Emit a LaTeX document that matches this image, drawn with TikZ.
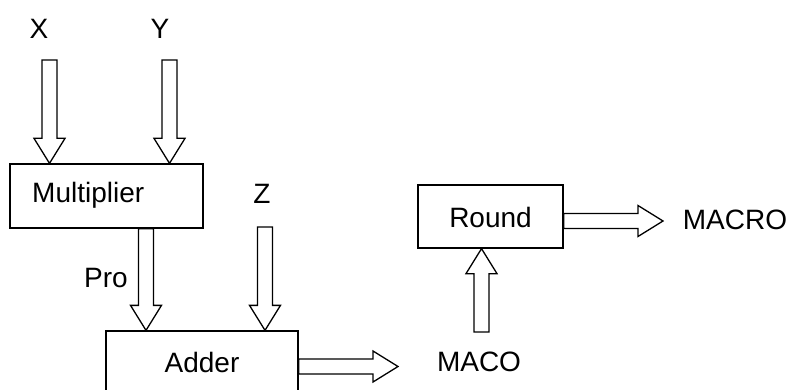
\documentclass[tikz,border=0pt]{standalone}
\usepackage{fontspec}
\setmainfont{Liberation Sans}
\usetikzlibrary{calc}

\tikzset{
  unitbox/.style={draw, line width=1.3pt, inner sep=0pt},
  sig/.style={inner sep=0pt, font=\fontsize{28}{31}\selectfont},
  fatarrow/.style={draw, line width=1.3pt, line join=miter, fill=white}
}

% Hollow block arrow from #1 to #2 (shaft half width 7.5, head half width 15.5, head length 25)
\newcommand\blockarrow[2]{%
  \coordinate (ba-h) at ($(#2)!25pt!(#1)$);
  \draw[fatarrow]
    ($(#1)!7.5pt!90:(#2)$) -- ($(ba-h)!7.5pt!90:(#2)$) -- ($(ba-h)!15.5pt!90:(#2)$)
    -- (#2)
    -- ($(ba-h)!15.5pt!-90:(#2)$) -- ($(ba-h)!7.5pt!-90:(#2)$) -- ($(#1)!7.5pt!-90:(#2)$)
    -- cycle;}

\begin{document}
\begin{tikzpicture}[x=1pt, y=-1pt]
  \useasboundingbox (0,0) rectangle (794,390);

  % blocks
  \node[unitbox, minimum width=193pt, minimum height=64pt] (mult) at (106.5,196) {};
  \node[sig, anchor=west] (multtxt) at (32,195) {Multiplier};
  \node[unitbox, minimum width=192pt, minimum height=63pt] (adder) at (202,362.5) {};
  \node[sig] (addertxt) at (202,362) {Adder};
  \node[unitbox, minimum width=145pt, minimum height=63pt] (round) at (490.5,216.5) {};
  \node[sig] (roundtxt) at (490.5,217) {Round};

  % signal labels
  \node[sig] (X) at (39,29) {X};
  \node[sig] (Y) at (160,29) {Y};
  \node[sig] (Z) at (262,194) {Z};
  \node[sig] (pro) at (106,278) {Pro};
  \node[sig] (maco) at (479,362) {MACO};
  \node[sig] (macro) at (735,220) {MACRO};

  % arrow end points
  \coordinate (xs) at (49.5,60);
  \coordinate (ys) at (169.5,60);
  \coordinate (zs) at (265,227);
  \coordinate (ms) at (481.5,332);
  \coordinate (mos) at (663,221);
  \coordinate (aos) at (398,366.5);

  \blockarrow{xs}{mult.north -| xs}
  \blockarrow{ys}{mult.north -| ys}
  \blockarrow{mult.south -| 146,0}{adder.north -| 146,0}
  \blockarrow{zs}{adder.north -| zs}
  \blockarrow{adder.east |- aos}{aos}
  \blockarrow{ms}{round.south -| ms}
  \blockarrow{round.east |- mos}{mos}
\end{tikzpicture}
\end{document}
